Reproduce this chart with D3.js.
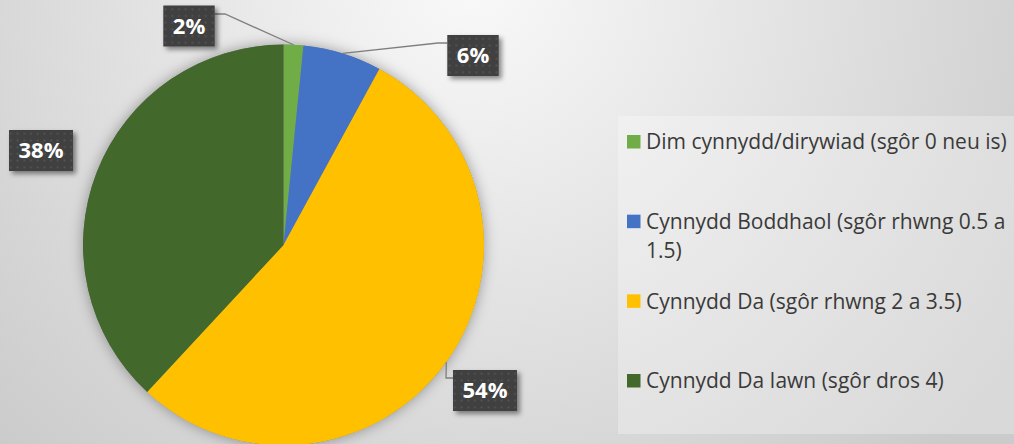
<!DOCTYPE html>
<html>
<head>
<meta charset="utf-8">
<script src="https://cdn.jsdelivr.net/npm/d3@7"></script>
<style>
  body { margin: 0; }
  svg { display: block; }
  .legend-text { font-family: "Open Sans", sans-serif; font-size: 21px; fill: #3a3a3a; }
  .pct { font-family: "Open Sans", sans-serif; font-weight: 700; font-size: 22px; fill: #fff; }
</style>
</head>
<body>
<svg id="chart"></svg>
<script>
const categories = [
  'Dim cynnydd/dirywiad (sgôr 0 neu is)',
  'Cynnydd Boddhaol (sgôr rhwng 0.5 a 1.5)',
  'Cynnydd Da (sgôr rhwng 2 a 3.5)',
  'Cynnydd Da Iawn (sgôr dros 4)'
];
const values = [1, 4, 34, 24];
const colors = ['#70AD47', '#4472C4', '#FFC000', '#43682B'];

const width = 1014, height = 444;

// where excel put the data labels (box centre, leader elbow)
const labelLayout = [
  { cx: 189, cy: 26, elbow: [225, 14], side: 'right', joinY: 14 },
  { cx: 473, cy: 55.5, elbow: [438, 43], side: 'left', joinY: 43 },
  { cx: 485, cy: 390.5, elbow: [446, 378], side: 'left', joinY: 378 },
  { cx: 41, cy: 150.5, elbow: null }
];

const svg = d3.select('#chart')
  .attr('width', width)
  .attr('height', height);

const defs = svg.append('defs');

const bg = defs.append('radialGradient')
  .attr('id', 'bg')
  .attr('gradientUnits', 'userSpaceOnUse')
  .attr('cx', 470).attr('cy', -20).attr('r', 660);
bg.append('stop').attr('offset', '0%').attr('stop-color', '#f9f9f9');
bg.append('stop').attr('offset', '100%').attr('stop-color', '#cbcbcb');

const dots = defs.append('pattern')
  .attr('id', 'dots')
  .attr('patternUnits', 'userSpaceOnUse')
  .attr('width', 6.7).attr('height', 6.7);
dots.append('rect').attr('width', 6.7).attr('height', 6.7).attr('fill', '#404040');
dots.append('rect').attr('x', 2.5).attr('y', 2.5).attr('width', 1.7).attr('height', 1.7).attr('fill', '#575757');

const halo = defs.append('filter').attr('id', 'halo')
  .attr('x', '-20%').attr('y', '-20%').attr('width', '140%').attr('height', '140%');
halo.append('feDropShadow').attr('dx', 0).attr('dy', 0).attr('stdDeviation', 7)
  .attr('flood-color', '#000').attr('flood-opacity', 0.35);

const boxShadow = defs.append('filter').attr('id', 'boxShadow')
  .attr('x', '-30%').attr('y', '-30%').attr('width', '160%').attr('height', '160%');
boxShadow.append('feDropShadow').attr('dx', 3).attr('dy', 3).attr('stdDeviation', 2.5)
  .attr('flood-color', '#000').attr('flood-opacity', 0.45);

svg.append('rect')
  .attr('width', width).attr('height', height)
  .attr('fill', 'url(#bg)');

// legend panel
svg.append('rect')
  .attr('x', 618).attr('y', 116)
  .attr('width', width - 618).attr('height', 318)
  .attr('fill', '#fff').attr('fill-opacity', 0.28);

const cx = 283.5, cy = 245, radius = 200.5;

const pie = d3.pie().sort(null).value(d => d);
const arcs = pie(values);
const total = d3.sum(values);

const arc = d3.arc().innerRadius(0).outerRadius(radius);

const g = svg.append('g').attr('transform', `translate(${cx},${cy})`);

g.append('circle').attr('r', radius).attr('fill', '#888').attr('filter', 'url(#halo)');

g.selectAll('.slice').data(arcs)
  .enter().append('path')
  .attr('class', 'slice')
  .attr('d', arc)
  .attr('fill', (d, i) => colors[i]);

// leader lines start on the rim at each slice's middle angle
const fmt = d3.format('.0%');
const labelG = svg.append('g');

arcs.forEach((d, i) => {
  const L = labelLayout[i];
  if (!L.elbow) return;
  const a = (d.startAngle + d.endAngle) / 2;
  L.start = [cx + radius * Math.sin(a), cy - radius * Math.cos(a)];
});

const labels = labelG.selectAll('.lab').data(arcs)
  .enter().append('g')
  .attr('class', 'lab')
  .attr('transform', (d, i) => `translate(${labelLayout[i].cx},${labelLayout[i].cy})`);

const txt = labels.append('text')
  .attr('class', 'pct')
  .attr('text-anchor', 'middle')
  .attr('dy', '0.35em')
  .text(d => fmt(d.value / total));

txt.each(function(d, i) {
  labelLayout[i].w = this.getComputedTextLength() + 19;
});

labels.insert('rect', 'text')
  .attr('x', (d, i) => -labelLayout[i].w / 2)
  .attr('y', -20.5)
  .attr('width', (d, i) => labelLayout[i].w)
  .attr('height', 41)
  .attr('fill', 'url(#dots)')
  .attr('filter', 'url(#boxShadow)');

const lineGen = d3.line();
labelG.selectAll('.leader').data(labelLayout.filter(l => l.elbow))
  .enter().insert('path', '.lab')
  .attr('class', 'leader')
  .attr('fill', 'none')
  .attr('stroke', '#7f7f7f')
  .attr('stroke-width', 1.3)
  .attr('d', l => {
    const jx = l.side === 'right' ? l.cx + l.w / 2 : l.cx - l.w / 2;
    return lineGen([l.start, l.elbow, [jx, l.joinY]]);
  });

// legend
const legend = svg.append('g').attr('transform', 'translate(627,0)');
const rowY = d3.scalePoint().domain(categories).range([142, 381]);
const maxW = 362;

const items = legend.selectAll('.item').data(categories)
  .enter().append('g')
  .attr('class', 'item')
  .attr('transform', d => `translate(0,${rowY(d)})`);

items.append('rect')
  .attr('x', 0).attr('y', -7)
  .attr('width', 13.5).attr('height', 13.5)
  .attr('fill', (d, i) => colors[i]);

items.append('text')
  .attr('class', 'legend-text')
  .attr('x', 19)
  .each(function(d) {
    const t = d3.select(this);
    const words = d.split(' ');
    let line = [];
    let tspan = t.append('tspan').attr('x', 19).attr('dy', '0.35em');
    words.forEach(w => {
      line.push(w);
      tspan.text(line.join(' '));
      if (tspan.node().getComputedTextLength() > maxW && line.length > 1) {
        line.pop();
        tspan.text(line.join(' '));
        line = [w];
        tspan = t.append('tspan').attr('x', 19).attr('dy', '1.38em').text(w);
      }
    });
  });
</script>
</body>
</html>
